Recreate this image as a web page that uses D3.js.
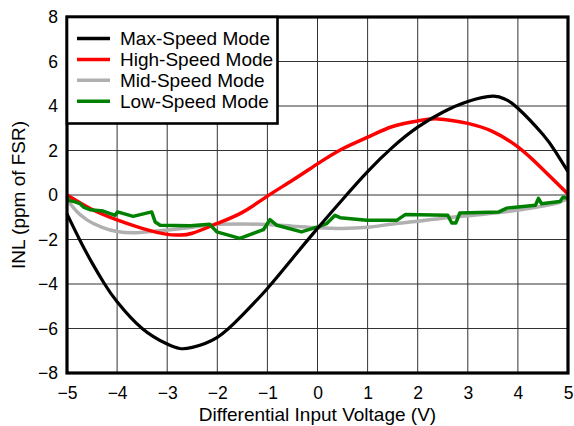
<!DOCTYPE html>
<html>
<head>
<meta charset="utf-8">
<script src="https://cdn.jsdelivr.net/npm/d3@7/dist/d3.min.js"></script>
<style>
  html, body { margin: 0; padding: 0; background: #fff; }
  svg { display: block; font-family: "Liberation Sans", Arial, sans-serif; }
</style>
</head>
<body>
<svg id="chart" width="574" height="426"></svg>
<script>
// INL vs differential input voltage for four speed modes
const xTicks = [-5, -4, -3, -2, -1, 0, 1, 2, 3, 4, 5];
const yTicks = [-8, -6, -4, -2, 0, 2, 4, 6, 8];

const seriesNames = ["Max-Speed Mode", "High-Speed Mode", "Mid-Speed Mode", "Low-Speed Mode"];
const seriesColors = ["#000000", "#ff0000", "#b0b0b0", "#008000"];

const maxSpeed = [
  [-5, -0.85], [-4.75, -2.0], [-4.5, -3.05], [-4.25, -4.0], [-4, -4.8], [-3.5, -6.0],
  [-3, -6.7], [-2.75, -6.9], [-2.5, -6.85], [-2, -6.4], [-1.5, -5.4], [-1, -4.2],
  [-0.5, -2.85], [0, -1.5], [0.5, -0.2], [1, 1.05], [1.5, 2.15], [2, 3.05],
  [2.5, 3.72], [3, 4.2], [3.5, 4.44], [3.75, 4.3], [4, 3.9], [4.5, 2.72],
  [4.75, 1.95], [5, 1.05]
];

const highSpeed = [
  [-5, 0], [-4.5, -0.65], [-4, -1.12], [-3.5, -1.5], [-3, -1.77], [-2.75, -1.8],
  [-2.5, -1.72], [-2, -1.28], [-1.5, -0.78], [-1, -0.05], [-0.5, 0.66], [0, 1.4],
  [0.5, 2.08], [1, 2.6], [1.5, 3.08], [2, 3.33], [2.4, 3.42], [3, 3.22], [3.5, 2.85],
  [4, 2.16], [4.5, 1.15], [5, 0.05]
];

const midSpeed = [
  [-5, -0.2], [-4.8, -0.75], [-4.6, -1.12], [-4.3, -1.45], [-4, -1.64], [-3.7, -1.7],
  [-3.2, -1.62], [-2.5, -1.45], [-2, -1.32], [-1.5, -1.3], [-1, -1.33], [-0.5, -1.4],
  [0, -1.47], [0.5, -1.5], [1, -1.45], [1.5, -1.3], [2, -1.18], [2.5, -1.04],
  [3, -0.93], [3.5, -0.82], [4, -0.68], [4.5, -0.5], [4.8, -0.35], [5, -0.15]
];

const lowSpeed = [
  [-5, -0.05], [-4.97, -0.24], [-4.84, -0.31], [-4.74, -0.39], [-4.67, -0.54],
  [-4.54, -0.66], [-4.28, -0.72], [-4.14, -0.84], [-4.04, -0.91], [-3.99, -0.76],
  [-3.68, -0.96], [-3.31, -0.76], [-3.24, -1.21], [-3.14, -1.36], [-2.54, -1.38],
  [-2.15, -1.32], [-2.01, -1.66], [-1.55, -1.95], [-1.08, -1.56], [-0.95, -1.11],
  [-0.81, -1.36], [-0.32, -1.66], [0.05, -1.4], [0.18, -1.29], [0.35, -0.91],
  [0.45, -1.02], [0.98, -1.14], [1.58, -1.14], [1.75, -0.88], [2.6, -0.91],
  [2.68, -1.26], [2.76, -1.26], [2.84, -0.81], [3.62, -0.76], [3.78, -0.59],
  [4.35, -0.46], [4.41, -0.15], [4.47, -0.39], [4.84, -0.29], [4.9, -0.1], [5, -0.14]
];

const svg = d3.select("#chart");
const margin = { left: 67, top: 17, right: 6, bottom: 53 };
const W = 574, H = 426;
const x = d3.scaleLinear().domain([-5, 5]).range([margin.left, W - margin.right]);
const y = d3.scaleLinear().domain([-8, 8]).range([H - margin.bottom, margin.top]);

// grid
const grid = svg.append("g");
grid.selectAll("line.vx").data(xTicks).join("line")
  .attr("x1", d => x(d)).attr("x2", d => x(d))
  .attr("y1", y(-8)).attr("y2", y(8))
  .attr("stroke", "#333").attr("stroke-width", 1);
grid.selectAll("line.hy").data(yTicks).join("line")
  .attr("x1", x(-5)).attr("x2", x(5))
  .attr("y1", d => y(d)).attr("y2", d => y(d))
  .attr("stroke", "#333").attr("stroke-width", 1);

// tick labels via d3 axes (no domain, no tick marks)
const xAxis = svg.append("g")
  .attr("transform", `translate(0,${y(-8)})`)
  .call(d3.axisBottom(x).tickValues(xTicks).tickSize(0).tickPadding(14).tickFormat(d3.format("d")));
const yAxis = svg.append("g")
  .attr("transform", `translate(${x(-5)},0)`)
  .call(d3.axisLeft(y).tickValues(yTicks).tickSize(0).tickPadding(9).tickFormat(d3.format("d")));
[xAxis, yAxis].forEach(a => {
  a.select(".domain").remove();
  a.selectAll("text").attr("font-size", 17.5).attr("fill", "#000")
    .attr("font-family", "'Liberation Sans', Arial, sans-serif");
});

// curves
const line = d3.line().x(d => x(d[0])).y(d => y(d[1]));
const natural = d3.line().x(d => x(d[0])).y(d => y(d[1])).curve(d3.curveNatural);
const mono = d3.line().x(d => x(d[0])).y(d => y(d[1])).curve(d3.curveMonotoneX);
const plot = svg.append("g");
plot.append("path").datum(midSpeed).attr("d", mono)
  .attr("fill", "none").attr("stroke", seriesColors[2]).attr("stroke-width", 3.5);
plot.append("path").datum(highSpeed).attr("d", natural)
  .attr("fill", "none").attr("stroke", seriesColors[1]).attr("stroke-width", 3.5);
plot.append("path").datum(lowSpeed).attr("d", line)
  .attr("fill", "none").attr("stroke", seriesColors[3]).attr("stroke-width", 3.5)
  .attr("stroke-linejoin", "round");
plot.append("path").datum(maxSpeed).attr("d", natural)
  .attr("fill", "none").attr("stroke", seriesColors[0]).attr("stroke-width", 3.2);

// frame
svg.append("rect")
  .attr("x", x(-5)).attr("y", y(8))
  .attr("width", x(5) - x(-5)).attr("height", y(-8) - y(8))
  .attr("fill", "none").attr("stroke", "#000").attr("stroke-width", 3.2);

// legend
const legend = svg.append("g");
legend.append("rect")
  .attr("x", x(-5)).attr("y", y(8))
  .attr("width", 210.5).attr("height", 106.5)
  .attr("fill", "#fff").attr("stroke", "#000").attr("stroke-width", 2.6);
const rows = legend.selectAll("g.row").data(seriesNames).join("g")
  .attr("transform", (d, i) => `translate(0,${38.5 + i * 20.9})`);
rows.append("line")
  .attr("x1", 77).attr("x2", 110).attr("y1", 0).attr("y2", 0)
  .attr("stroke", (d, i) => seriesColors[i]).attr("stroke-width", 3.5);
rows.append("text")
  .attr("x", 120).attr("y", 6.5)
  .attr("font-size", 19).attr("fill", "#000")
  .text(d => d);

// axis titles
svg.append("text")
  .attr("x", (x(-5) + x(5)) / 2).attr("y", 421)
  .attr("text-anchor", "middle").attr("font-size", 19)
  .text("Differential Input Voltage (V)");
svg.append("text")
  .attr("transform", `translate(25,${(y(-8) + y(8)) / 2}) rotate(-90)`)
  .attr("text-anchor", "middle").attr("font-size", 19)
  .text("INL (ppm of FSR)");
</script>
</body>
</html>
